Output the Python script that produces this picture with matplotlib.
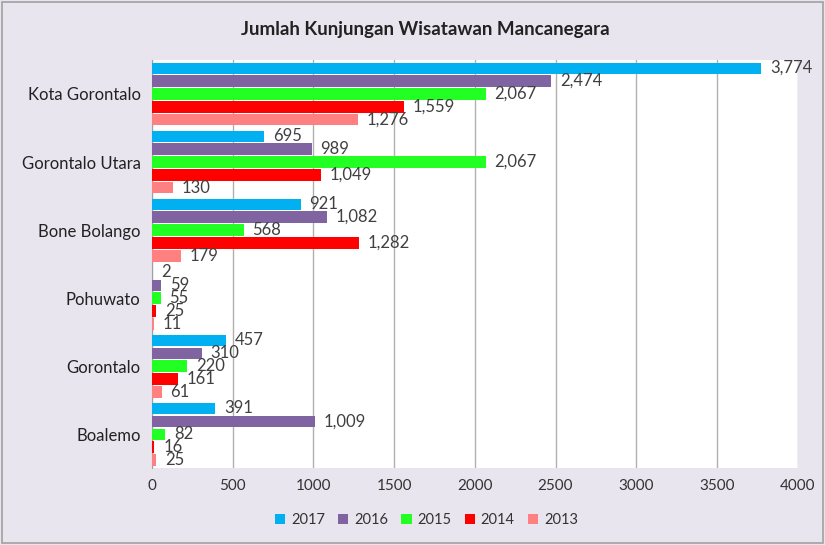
#Horizontal grouped bar chart of foreign tourist visits per region
import numpy as np
import matplotlib.pyplot as plt
from matplotlib.patches import Rectangle

#Data (top to bottom)
regions = ['Kota Gorontalo', 'Gorontalo Utara', 'Bone Bolango', 'Pohuwato', 'Gorontalo', 'Boalemo']
years = ['2017', '2016', '2015', '2014', '2013']
v2017 = [3774, 695, 921, 2, 457, 391]
v2016 = [2474, 989, 1082, 59, 310, 1009]
v2015 = [2067, 2067, 568, 55, 220, 82]
v2014 = [1559, 1049, 1282, 25, 161, 16]
v2013 = [1276, 130, 179, 11, 61, 25]
xticks = [0, 500, 1000, 1500, 2000, 2500, 3000, 3500, 4000]

colors = ['#00B0F0', '#8064A2', '#22FF22', '#FF0000', '#FF8080']
series = [v2017, v2016, v2015, v2014, v2013]

plt.rcParams['font.family'] = ['Lato', 'DejaVu Sans']

fig = plt.figure(figsize=(8.25, 5.45), dpi=100)
fig.patch.set_facecolor('#E8E5EE')
fig.patches.append(Rectangle((0.003, 0.003), 0.994, 0.994, transform=fig.transFigure,
                             fill=False, edgecolor='#A0A0A0', linewidth=1.2))

ax = fig.add_axes([0.184, 0.141, 0.783, 0.749])
ax.set_facecolor('white')

n = len(regions)
centers = np.arange(n)[::-1].astype(float)
step = 0.19
h = 0.165

for i, (vals, c, yr) in enumerate(zip(series, colors, years)):
    ypos = centers + (2 - i) * step
    ax.barh(ypos, vals, height=h, color=c, label=yr, zorder=3)
    #value labels right of each bar (they crowd on the short bars, as in the original)
    for y, v in zip(ypos, vals):
        ax.text(v + 55, y, format(v, ','), va='center', ha='left',
                fontsize=12, color='#404040', zorder=4, clip_on=False)

ax.set_xlim(0, 4000)
ax.set_ylim(-0.5, n - 0.5)
ax.set_xticks(xticks)
ax.set_xticklabels([str(x) for x in xticks], fontsize=11, color='#333333')
ax.set_yticks(centers)
ax.set_yticklabels(regions, fontsize=12, color='#222222')
ax.tick_params(axis='both', length=0, pad=8)
ax.xaxis.grid(True, color='#B0B0B0', linewidth=1, zorder=0)
for s in ['top', 'right', 'bottom']:
    ax.spines[s].set_visible(False)
ax.spines['left'].set_color('#A0A0A0')

fig.text(0.515, 0.945, 'Jumlah Kunjungan Wisatawan Mancanegara', ha='center', va='center',
         fontsize=13.5, fontweight='bold', color='#222222')

fig.legend(loc='center', bbox_to_anchor=(0.517, 0.045), ncol=5, frameon=False,
           fontsize=10.5, handlelength=0.7, handleheight=0.7, columnspacing=0.9,
           handletextpad=0.4, labelcolor='#333333')

plt.savefig('out.png', dpi=100, facecolor=fig.get_facecolor())
